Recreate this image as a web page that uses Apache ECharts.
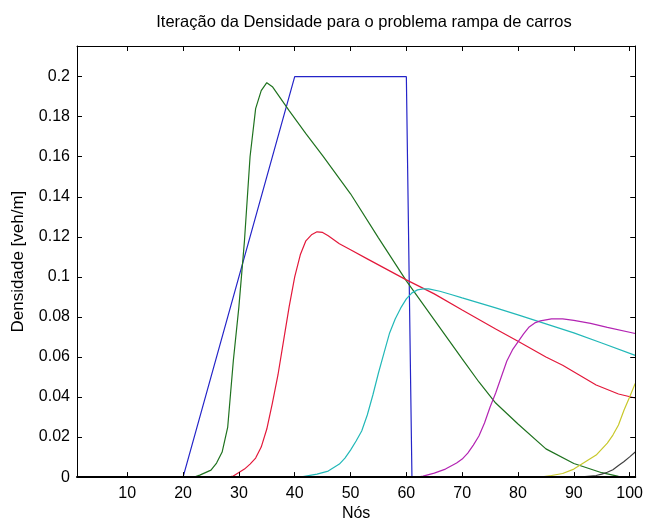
<!DOCTYPE html>
<html>
<head>
<meta charset="utf-8">
<script src="https://cdn.jsdelivr.net/npm/echarts@6/dist/echarts.min.js"></script>
<style>
  html, body { margin: 0; padding: 0; background: #fff; }
  #chart { width: 646px; height: 527px; }
</style>
</head>
<body>
<div id="chart"></div>
<script>
// pontos: [nó, densidade]
const iter1 = [[1, 0], [20, 0], [40, 0.2], [60, 0.2], [61, 0], [101, 0]]
const iter2 = [[1, 0], [22, 0], [23, 0.001], [25, 0.0035], [26, 0.007], [27, 0.0125], [28, 0.025],
  [29, 0.058], [30, 0.085], [31, 0.118], [32, 0.16], [33, 0.184], [34, 0.193], [35, 0.197],
  [36, 0.195], [37, 0.191], [39, 0.183], [42, 0.1715], [45, 0.1605], [50, 0.1415], [55, 0.1195],
  [60, 0.098], [65, 0.0785], [70, 0.059], [73, 0.0475], [76, 0.037], [80, 0.0265], [85, 0.0141],
  [90, 0.0068], [95, 0.0022], [98, 0.0004], [101, 0]]
const iter3 = [[1, 0], [28, 0], [29, 0.0005], [31, 0.004], [32, 0.0065], [33, 0.0095], [34, 0.015],
  [35, 0.024], [36, 0.037], [37, 0.051], [38, 0.068], [39, 0.085], [40, 0.1], [41, 0.111],
  [42, 0.118], [43, 0.121], [44, 0.1225], [45, 0.1222], [46, 0.1205], [48, 0.1165], [50, 0.1135],
  [53, 0.109], [56, 0.1045], [60, 0.0985], [65, 0.0915], [70, 0.0835], [76, 0.074], [80, 0.0678],
  [85, 0.06], [88, 0.0559], [94, 0.046], [98, 0.0415], [101, 0.0395]]
const iter4 = [[1, 0], [41, 0], [42, 0.0005], [44, 0.0015], [46, 0.003], [48, 0.0065], [49, 0.0095],
  [50, 0.0135], [51, 0.018], [52, 0.023], [53, 0.031], [54, 0.041], [55, 0.052], [56, 0.062],
  [57, 0.072], [58, 0.079], [59, 0.0845], [60, 0.089], [61, 0.092], [62, 0.0935], [63, 0.094],
  [64, 0.094], [66, 0.0928], [68, 0.0912], [70, 0.0895], [73, 0.087], [76, 0.0845], [80, 0.081],
  [85, 0.0765], [90, 0.072], [95, 0.067], [101, 0.0608]]
const iter5 = [[1, 0], [62, 0], [63, 0.0005], [65, 0.002], [67, 0.004], [69, 0.007], [70, 0.009],
  [71, 0.012], [72, 0.016], [73, 0.0205], [74, 0.027], [75, 0.035], [76, 0.042], [77, 0.05],
  [78, 0.058], [79, 0.0635], [80, 0.0675], [81, 0.0715], [82, 0.075], [83, 0.077], [84, 0.078],
  [86, 0.079], [88, 0.079], [90, 0.0783], [93, 0.0768], [96, 0.0748], [101, 0.0717]]
const iter6 = [[1, 0], [84, 0], [86, 0.0008], [88, 0.0018], [90, 0.004], [92, 0.0075], [94, 0.011],
  [96, 0.017], [97, 0.021], [98, 0.026], [99, 0.0335], [100, 0.04], [101, 0.0468]]
const iter7 = [[1, 0], [90, 0], [92, 0.0003], [94, 0.0008], [95, 0.0015], [96, 0.0024], [97, 0.0037],
  [98, 0.0058], [99, 0.0078], [100, 0.0101], [101, 0.0125]]

const xTicks = [10, 20, 30, 40, 50, 60, 70, 80, 90, 100]
const yTicks = [0, 0.02, 0.04, 0.06, 0.08, 0.1, 0.12, 0.14, 0.16, 0.18, 0.2]

// cores padrão do MATLAB antigo
const colors = ['#2424c8', '#1f721f', '#e3183a', '#22b8b8', '#b324b3', '#c8c82a', '#404040']
const iterations = [iter1, iter2, iter3, iter4, iter5, iter6, iter7]

const font = 'Liberation Sans, Arial, sans-serif'

const chart = echarts.init(document.getElementById('chart'))

const boxAxis = (extra) => Object.assign({
  type: 'value',
  z: 10,
  axisLine: {show: true, onZero: false, lineStyle: {color: '#000', width: 1}},
  splitLine: {show: false}
}, extra)

chart.setOption({
  animation: false,
  color: colors,
  title: {
    text: 'Iteração da Densidade para o problema rampa de carros',
    left: 359,
    textAlign: 'center',
    top: 9,
    textStyle: {fontFamily: font, fontSize: 16.5, fontWeight: 'normal', color: '#000'}
  },
  grid: {left: 77, right: 6, top: 46, bottom: 45},
  xAxis: [
    boxAxis({
      min: 1,
      max: 101,
      position: 'bottom',
      name: 'Nós',
      nameLocation: 'middle',
      nameGap: 27,
      nameTextStyle: {fontFamily: font, fontSize: 16, color: '#000'},
      axisLine: {show: true, onZero: false, lineStyle: {color: '#000', width: 2}},
      axisTick: {inside: true, length: 5, customValues: xTicks, lineStyle: {color: '#000'}},
      axisLabel: {customValues: xTicks, margin: 8, fontFamily: font, fontSize: 16, color: '#000'}
    }),
    boxAxis({
      min: 1,
      max: 101,
      position: 'top',
      axisTick: {inside: true, length: 5, customValues: xTicks, lineStyle: {color: '#000'}},
      axisLabel: {show: false}
    })
  ],
  yAxis: [
    boxAxis({
      min: 0,
      max: 0.2153,
      position: 'left',
      name: 'Densidade [veh/m]',
      nameLocation: 'middle',
      nameGap: 50,
      nameTextStyle: {fontFamily: font, fontSize: 17, color: '#000'},
      axisTick: {inside: true, length: 5, customValues: yTicks, lineStyle: {color: '#000'}},
      axisLabel: {customValues: yTicks, margin: 7, fontFamily: font, fontSize: 16, color: '#000'}
    }),
    boxAxis({
      min: 0,
      max: 0.2153,
      position: 'right',
      axisTick: {inside: true, length: 5, customValues: yTicks, lineStyle: {color: '#000'}},
      axisLabel: {show: false}
    })
  ],
  series: iterations.map((d, i) => ({
    type: 'line',
    name: 'iteração ' + (i + 1),
    data: d,
    showSymbol: false,
    symbol: 'none',
    lineStyle: {width: 1.2, color: colors[i]},
    z: 2
  }))
})
</script>
</body>
</html>
